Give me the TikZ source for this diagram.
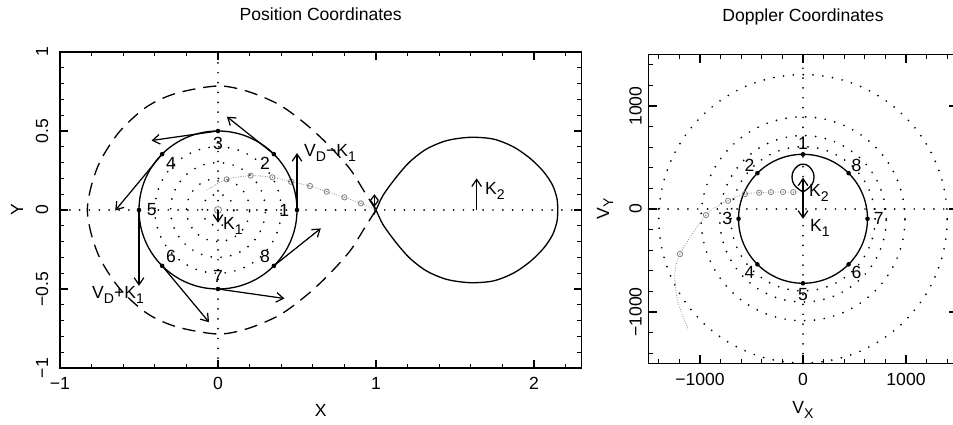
\documentclass[tikz,border=0pt]{standalone}
\usepackage{fontspec}
\setmainfont{Liberation Sans}
\usetikzlibrary{arrows.meta,calc}

\newcommand{\lowsub}[1]{\raisebox{-0.45ex}{\footnotesize #1}}
% Roche lobe of the secondary, in position units (L1 at x=1)
\newcommand{\seclobe}{plot[smooth] coordinates {(0.985,-0.03) (1,0) (1.046,0.095) (1.13,0.21) (1.215,0.306) (1.32,0.386) (1.447,0.439) (1.595,0.46) (1.742,0.449) (1.869,0.40) (1.975,0.327) (2.06,0.243) (2.117,0.158) (2.145,0.074) (2.15,0) (2.145,-0.074) (2.117,-0.158) (2.06,-0.243) (1.975,-0.327) (1.869,-0.40) (1.742,-0.449) (1.595,-0.46) (1.447,-0.439) (1.32,-0.386) (1.215,-0.306) (1.13,-0.21) (1.046,-0.095) (1,0) (0.985,0.03)}}

\begin{document}
\begin{tikzpicture}[
  frame/.style={line width=0.9pt},
  tick/.style={line width=0.7pt},
  curve/.style={line width=0.75pt},
  dotline/.style={line width=1.1pt, line cap=round, dash pattern=on 0pt off 5.6pt},
  lobedash/.style={line width=0.75pt, dash pattern=on 7.5pt off 4.5pt},
  stream/.style={gray, line width=0.6pt, line cap=round, dash pattern=on 0pt off 1.4pt},
  vec/.style={-{Straight Barb[length=4pt,width=5.5pt]}, line width=0.7pt},
  dvec/.style={{Straight Barb[length=3pt,width=4.5pt]}-{Straight Barb[length=3pt,width=4.5pt]}, line width=0.7pt},
  smark/.style={gray, line width=0.45pt},
  lbl/.style={font=\fontsize{10}{12}\selectfont, inner sep=0pt}
]
\useasboundingbox (0,0) rectangle (19.06,-8.5);

% ---------------- position coordinates ----------------
\begin{scope}[shift={(4.36,-4.2)}, x=3.16cm, y=3.16cm]
  \draw[frame] (-1,-1) rectangle (2.3,1);
  \foreach \i in {-4,...,11} {
    \draw[tick] ({\i*0.2},-1) -- ++(0,0.025);
    \draw[tick] ({\i*0.2},1) -- ++(0,-0.025);
  }
  \foreach \x in {-1,0,1,2} {
    \draw[tick] (\x,-1) -- ++(0,0.05);
    \draw[tick] (\x,1) -- ++(0,-0.05);
  }
  \foreach \i in {-9,...,9} {
    \draw[tick] (-1,{\i*0.1}) -- ++(0.025,0);
    \draw[tick] (2.3,{\i*0.1}) -- ++(-0.025,0);
  }
  \foreach \i in {-2,...,2} {
    \draw[tick] (-1,{\i*0.5}) -- ++(0.05,0);
    \draw[tick] (2.3,{\i*0.5}) -- ++(-0.05,0);
  }
  \foreach \x/\s [count=\k] in {-1/−1,0/0,1/1,2/2}
    \node[lbl] (pxl\k) at (\x,-1.095) {\s};
  \foreach \y/\s [count=\k] in {-1/−1,-0.5/−0.5,0/0,0.5/0.5,1/1}
    \node[lbl, rotate=90] (pyl\k) at (-1.114,\y) {\s};
  \node[lbl] (ptitle) at (0.65,1.24) {Position Coordinates};
  \node[lbl] (pxlab) at (0.65,-1.266) {X};
  \node[lbl, rotate=90] (pylab) at (-1.272,0) {Y};

  % axes and Keplerian radii
  \draw[dotline] (-1,0) -- (2.3,0);
  \draw[dotline] (0,-1) -- (0,1);
  \foreach \r in {0.1,0.2,0.3,0.4}
    \draw[dotline] (0,0) circle (\r);

  % Roche lobes
  \draw[lobedash] plot[smooth] coordinates {(1,0) (0.93,0.11) (0.835,0.26) (0.70,0.41) (0.56,0.54) (0.39,0.665) (0.19,0.75) (0,0.785) (-0.26,0.74) (-0.45,0.654) (-0.62,0.50) (-0.74,0.32) (-0.80,0.16) (-0.827,0) (-0.80,-0.16) (-0.74,-0.32) (-0.62,-0.50) (-0.45,-0.654) (-0.26,-0.74) (0,-0.785) (0.19,-0.75) (0.39,-0.665) (0.56,-0.54) (0.70,-0.41) (0.835,-0.26) (0.93,-0.11) (1,0)};
  \draw[curve] \seclobe;

  % gas stream
  \draw[stream] plot[smooth] coordinates {(-0.07,0.127) (0.055,0.194) (0.207,0.217) (0.344,0.207) (0.462,0.179) (0.582,0.152) (0.688,0.116) (0.80,0.08) (0.905,0.042) (1,0)};
  \foreach \mx/\my [count=\k] in {0.055/0.194,0.207/0.217,0.344/0.207,0.462/0.179,0.582/0.152,0.688/0.116,0.80/0.08,0.905/0.042} {
    \coordinate (ps\k) at (\mx,\my);
    \draw[smark] (ps\k) circle (1.5pt);
    \fill[gray] (ps\k) circle (0.4pt);
  }

  % disc ring and velocity vectors
  \draw[curve] (0,0) circle (0.5);
  \foreach \i in {1,...,8} {
    \coordinate (p\i) at ({(\i-1)*45}:0.5);
    \coordinate (v\i) at ($(p\i)+({-0.42*sin((\i-1)*45)},{0.42*cos((\i-1)*45)-0.06})$);
    \draw[vec] (p\i) -- (v\i);
    \fill (p\i) circle (1.3pt);
    \node[lbl] (pn\i) at ({(\i-1)*45}:0.42) {\i};
  }

  \coordinate (prim) at (0,0);
  \coordinate (primk) at (0,-0.08);
  \draw[smark] (prim) circle (2pt);
  \fill[gray] (prim) circle (0.4pt);
  \draw[vec] (prim) -- (primk);
  \node[lbl] (pk1) at (0.095,-0.101) {K\lowsub{1}};

  \coordinate (sec) at (1.637,0);
  \coordinate (seck) at (1.637,0.2);
  \draw[vec] (sec) -- (seck);
  \node[lbl] (pk2) at (1.753,0.12) {K\lowsub{2}};

  \coordinate (lone) at (0.99,0.02);
  \coordinate (lonek) at (0.99,0.1);
  \draw[dvec] (lone) -- (lonek);

  \node[lbl] (vdm) at (0.709,0.361) {V\lowsub{D}−K\lowsub{1}};
  \node[lbl] (vdp) at (-0.633,-0.538) {V\lowsub{D}+K\lowsub{1}};
\end{scope}

% ---------------- Doppler coordinates ----------------
\begin{scope}[shift={(16.06,-4.18)}, x=0.00206cm, y=0.00206cm]
  \draw[frame] (-1500,-1500) rectangle (1500,1500);
  \foreach \i in {-7,...,7} {
    \draw[tick] ({\i*200},-1500) -- ++(0,39);
    \draw[tick] ({\i*200},1500) -- ++(0,-39);
    \draw[tick] (-1500,{\i*200}) -- ++(39,0);
    \draw[tick] (1500,{\i*200}) -- ++(-39,0);
  }
  \foreach \i in {-1,0,1} {
    \draw[tick] ({\i*1000},-1500) -- ++(0,78);
    \draw[tick] ({\i*1000},1500) -- ++(0,-78);
    \draw[tick] (-1500,{\i*1000}) -- ++(78,0);
    \draw[tick] (1500,{\i*1000}) -- ++(-78,0);
  }
  \foreach \v/\s [count=\k] in {-1000/−1000,0/0,1000/1000} {
    \node[lbl] (dxl\k) at (\v,-1655) {\s};
    \node[lbl, rotate=90] (dyl\k) at (-1626,\v) {\s};
  }
  \node[lbl] (dtitle) at (0,1864) {Doppler Coordinates};
  \node[lbl] (dxlab) at (0,-1951) {V\lowsub{X}};
  \node[lbl, rotate=90] (dylab) at (-1922,0) {V\lowsub{Y}};

  \draw[dotline] (-1500,0) -- (1500,0);
  \draw[dotline] (0,-1500) -- (0,1500);

  \coordinate (dcen) at (0,-95);
  \foreach \r in {700,808,990,1400}
    \draw[dotline] (dcen) circle (\r);
  \draw[curve] (dcen) circle (626);

  \begin{scope}[shift={(0,-64)}, rotate=90, scale=232]
    \draw[curve] \seclobe;
  \end{scope}

  \draw[stream] plot[smooth] coordinates {(0,168) (-94,164) (-194,165) (-311,164) (-425,158) (-563,145) (-728,80) (-942,-58) (-1194,-437) (-1245,-640) (-1215,-900) (-1120,-1159)};
  \foreach \mx/\my [count=\k] in {-94/164,-194/165,-311/164,-425/158,-563/145,-728/80,-942/-58,-1194/-437} {
    \coordinate (ds\k) at (\mx,\my);
    \draw[smark] (ds\k) circle (1.5pt);
    \fill[gray] (ds\k) circle (0.4pt);
  }

  \foreach \i in {1,...,8} {
    \coordinate (d\i) at ($(dcen)+({(\i-1)*45+90}:626)$);
    \fill (d\i) circle (1.3pt);
    \node[lbl] (dn\i) at ($(dcen)+({(\i-1)*45+90}:735)$) {\i};
  }

  \coordinate (dorig) at (0,0);
  \coordinate (dk2) at (0,305);
  \coordinate (dk1) at (0,-95);
  \draw[vec] (dorig) -- (dk2);
  \draw[vec] (dorig) -- (dk1);
  \node[lbl] (dk2l) at (155,155) {K\lowsub{2}};
  \node[lbl] (dk1l) at (165,-184) {K\lowsub{1}};
\end{scope}
\end{tikzpicture}
\end{document}
